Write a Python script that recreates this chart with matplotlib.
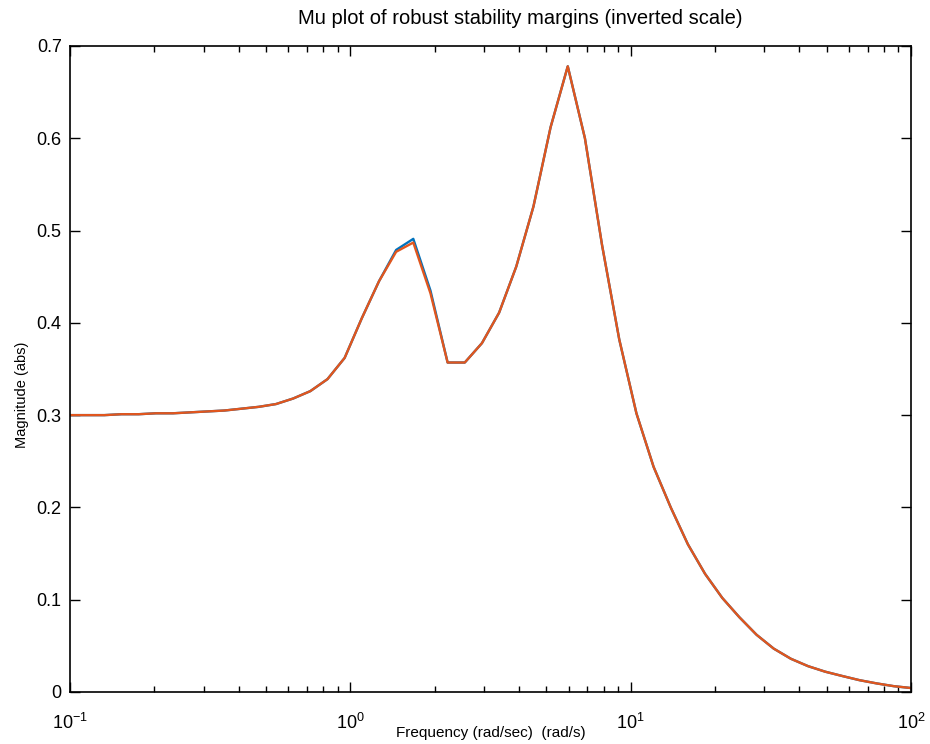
import numpy as np
import matplotlib
matplotlib.use('Agg')
import matplotlib.pyplot as plt

plt.rcParams['font.family'] = ['Liberation Sans', 'DejaVu Sans']
plt.rcParams['mathtext.fontset'] = 'custom'
plt.rcParams['mathtext.rm'] = 'Liberation Sans'

# frequency grid (rad/s), 50 log-spaced points from 0.1 to 100
freq = np.logspace(-1, 2, 50)

# lower bound of mu (orange)
mu_lower = [0.300, 0.300, 0.300, 0.301, 0.301, 0.302, 0.302, 0.303, 0.304, 0.305,
            0.307, 0.309, 0.312, 0.318, 0.326, 0.339, 0.362, 0.405, 0.445, 0.477,
            0.487, 0.432, 0.357, 0.357, 0.378, 0.411, 0.461, 0.526, 0.612, 0.678,
            0.600, 0.484, 0.382, 0.302, 0.244, 0.200, 0.160, 0.128, 0.102, 0.081,
            0.062, 0.047, 0.036, 0.028, 0.022, 0.0173, 0.0128, 0.0093, 0.0063, 0.0043]

# upper bound of mu (blue) - almost identical, slightly higher at first peak
mu_upper = list(mu_lower)
mu_upper[19] = 0.479
mu_upper[20] = 0.491
mu_upper[21] = 0.435

fig = plt.figure(figsize=(9.3, 7.44), dpi=100)
ax = fig.add_axes([0.0753, 0.0699, 0.9043, 0.8683])

ax.semilogx(freq, mu_upper, color='#0072BD', lw=1.7)
ax.semilogx(freq, mu_lower, color='#E0561E', lw=1.7)

ax.set_xlim(0.1, 100)
ax.set_ylim(0, 0.7)
ax.set_yticks(np.arange(0, 0.71, 0.1))
ax.set_yticklabels(['0', '0.1', '0.2', '0.3', '0.4', '0.5', '0.6', '0.7'])

ax.tick_params(which='both', direction='in', top=True, right=True, labelsize=13)
ax.tick_params(which='major', length=7, width=1)
ax.tick_params(which='minor', length=4, width=1)
ax.tick_params(axis='x', which='major', pad=15)
ax.tick_params(axis='y', which='major', pad=6)
for s in ax.spines.values():
    s.set_linewidth(1.2)

ax.set_title('Mu plot of robust stability margins (inverted scale)', fontsize=14.5, pad=16, x=0.535)
ax.set_xlabel('Frequency (rad/sec)  (rad/s)', fontsize=11)
ax.xaxis.set_label_coords(0.5, -0.052)
ax.set_ylabel('Magnitude (abs)', fontsize=10.5)
ax.yaxis.set_label_coords(-0.049, 0.46)

plt.savefig('out.png', dpi=100)
